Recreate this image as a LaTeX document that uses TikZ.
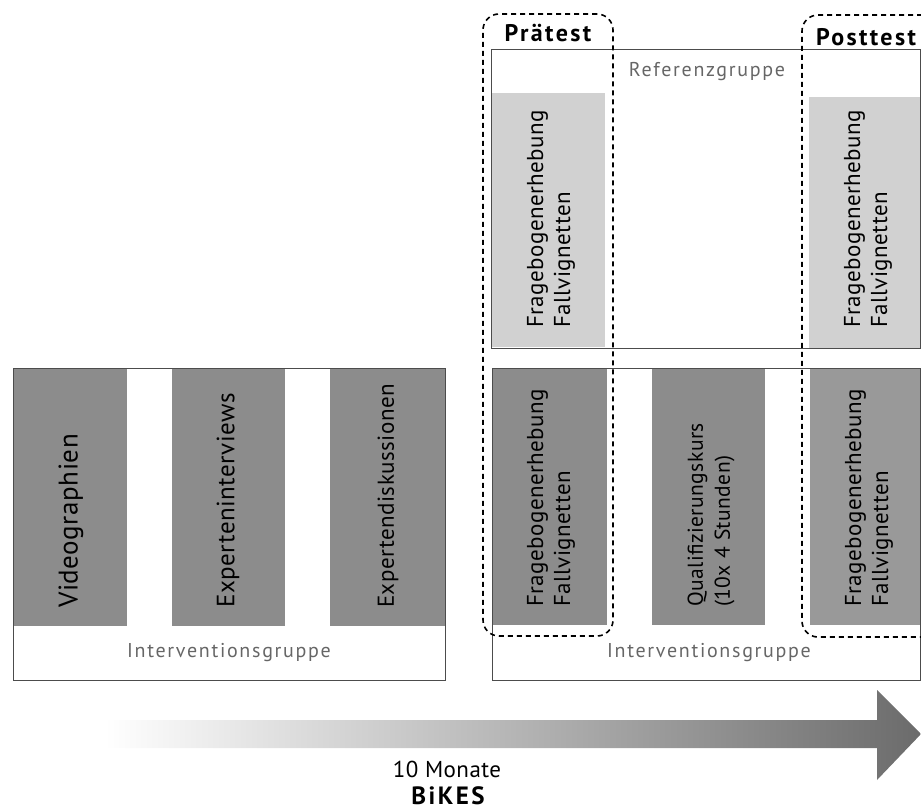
\documentclass[tikz,border=0pt]{standalone}
\usepackage{fontspec}
\setmainfont{PT Sans}
\newfontfamily\grpfont[LetterSpace=8.5]{PT Sans}
\newfontfamily\hdrfont[LetterSpace=10]{PT Sans}
\newfontfamily\vfont[LetterSpace=2]{PT Sans}
\begin{document}
\begin{tikzpicture}[x=1pt,y=-1pt,
  darkbox/.style={fill=black!45, draw=none, anchor=north west, inner sep=0, outer sep=0},
  lightbox/.style={fill=black!18, draw=none, anchor=north west, inner sep=0, outer sep=0},
  frame/.style={draw=black!70, line width=0.7pt, fill=none, anchor=north west, inner sep=0, outer sep=0},
  phase/.style={draw=black, line width=1.6pt, dash pattern=on 5pt off 4pt, rounded corners=16pt, fill=none, anchor=north west, inner sep=0, outer sep=0},
  vtext/.style={rotate=90, anchor=west, align=left, inner sep=0, font=\vfont\fontsize{23}{27}\selectfont},
  gtext/.style={text=black!60, font=\grpfont\fontsize{20}{24}\selectfont, inner sep=0},
  htext/.style={font=\hdrfont\fontsize{24}{28}\selectfont\bfseries, inner sep=0}
]
\useasboundingbox (0,0) rectangle (921,811);

% ---------- left block ----------
\node[darkbox, minimum width=114pt, minimum height=258pt] (lv) at (13,368) {};
\node[darkbox, minimum width=113pt, minimum height=258pt] (le) at (172,368) {};
\node[darkbox, minimum width=115pt, minimum height=258pt] (ld) at (330,368) {};
\node[frame, minimum width=432pt, minimum height=312pt] (lframe) at (13,368) {};
\node[vtext, font=\vfont\fontsize{27}{27}\selectfont] (lvt) at (71,608) {Videographien};
\node[vtext, font=\vfont\fontsize{25}{27}\selectfont] (let) at (228,608) {Experteninterviews};
\node[vtext, font=\vfont\fontsize{23}{27}\selectfont] (ldt) at (388,608) {Expertendiskussionen};
\node[gtext] (lig) at (229,653) {Interventionsgruppe};

% ---------- right block: reference group ----------
\node[lightbox, minimum width=113pt, minimum height=254pt] (rpre) at (492,93) {};
\node[lightbox, minimum width=113pt, minimum height=251pt] (rpost) at (809,97) {};
\node[frame, minimum width=429pt, minimum height=299pt] (rframe) at (491,49) {};
\node[gtext] (rg) at (707,72) {Referenzgruppe};
\node[vtext] (rpret) at (551,328) {Fragebogenerhebung\\Fallvignetten};
\node[vtext] (rpostt) at (868,328) {Fragebogenerhebung\\Fallvignetten};

% ---------- right block: intervention group ----------
\node[darkbox, minimum width=115pt, minimum height=257pt] (ipre) at (492,368) {};
\node[darkbox, minimum width=113pt, minimum height=257pt] (iq) at (652,368) {};
\node[darkbox, fill=black!40, minimum width=112pt, minimum height=257pt] (ipost) at (810,368) {};
\node[frame, minimum width=428pt, minimum height=312pt] (iframe) at (492,368) {};
\node[vtext] (ipret) at (551,607) {Fragebogenerhebung\\Fallvignetten};
\node[vtext, font=\vfont\fontsize{21.5}{27}\selectfont] (iqt) at (711,607) {Qualifizierungskurs\\(10x 4 Stunden)};
\node[vtext] (ipostt) at (869,607) {Fragebogenerhebung\\Fallvignetten};
\node[gtext] (rig) at (709,653) {Interventionsgruppe};

% ---------- test phases ----------
\node[phase, minimum width=130pt, minimum height=622pt] (pre) at (483,14) {};
\node[phase, minimum width=136pt, minimum height=622pt] (post) at (802,15) {};
\node[htext] (pret) at (548,33) {Prätest};
\node[htext] (postt) at (866,37) {Posttest};

% ---------- time arrow ----------
\shade[left color=white, right color=black!58]
  (105,720) -- (877,720) -- (877,690) -- (921,734) -- (877,780) -- (877,748) -- (105,748) -- cycle;
\node[font=\vfont\fontsize{23}{26}\selectfont, inner sep=0] (mon) at (447,769) {10 Monate};
\node[font=\hdrfont\fontsize{25}{29}\selectfont\bfseries, inner sep=0] (bikes) at (448,796) {BiKES};
\end{tikzpicture}
\end{document}
